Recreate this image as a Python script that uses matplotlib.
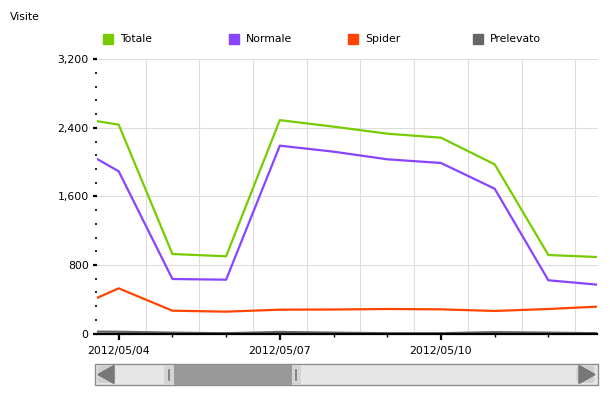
import matplotlib
matplotlib.use('Agg')
import matplotlib.pyplot as plt
import matplotlib.dates as mpl_dates
from matplotlib.patches import Rectangle, FancyBboxPatch, Polygon
from matplotlib.ticker import MultipleLocator, FuncFormatter
import pandas as pd

# data (visits per day)
days = pd.date_range('2012-05-03', '2012-05-13', freq='D')
totale = [2540, 2437, 928, 901, 2490, 2414, 2332, 2285, 1974, 916, 890]
normale = [2250, 1893, 636, 628, 2192, 2122, 2033, 1990, 1690, 621, 565]
spider = [250, 527, 266, 255, 278, 280, 286, 282, 263, 286, 316]
prelevato = [25, 20, 10, 3, 18, 10, 3, 3, 16, 10, 3]

series_names = ['Totale', 'Normale', 'Spider', 'Prelevato']
series_colors = ['#77cc00', '#8844ff', '#ff4400', '#666666']

plt.rcParams['font.family'] = 'DejaVu Sans'
W, H = 610, 396
fig = plt.figure(figsize=(W / 100, H / 100), dpi=100)

# plot area
ax = fig.add_axes([97 / W, 1 - 333.5 / H, 499.7 / W, 274.2 / H])
x = mpl_dates.date2num(days)
for vals, col in zip([totale, normale, spider, prelevato], series_colors):
    ax.plot(x, vals, color=col, lw=1.6, solid_joinstyle='round', zorder=3)

x0 = mpl_dates.date2num(pd.Timestamp('2012-05-04')) - 0.404
x1 = mpl_dates.date2num(pd.Timestamp('2012-05-13')) - 0.1
ax.set_xlim(x0, x1)
ax.set_ylim(0, 3200)

# grid: horizontal on major y, vertical at half days
for v in [800, 1600, 2400, 3200]:
    ax.axhline(v, color='#dddddd', lw=0.8, zorder=1, clip_on=False)
for d in x[:-1]:
    if x0 < d + 0.5 < x1:
        ax.axvline(d + 0.5, color='#dddddd', lw=0.8, zorder=1)

for s in ['top', 'right', 'left']:
    ax.spines[s].set_visible(False)
ax.spines['bottom'].set_linewidth(1.6)
ax.spines['bottom'].set_zorder(4)

ax.yaxis.set_major_locator(MultipleLocator(800))
ax.yaxis.set_minor_locator(MultipleLocator(160))
ax.yaxis.set_major_formatter(FuncFormatter(lambda v, p: f'{int(v):,}'))
ax.tick_params(axis='y', which='major', length=3, width=1.6, pad=3, labelsize=7.8)
ax.tick_params(axis='y', which='minor', length=1.2, width=1.2)

ax.xaxis.set_major_locator(mpl_dates.DayLocator(bymonthday=[4, 7, 10]))
ax.xaxis.set_minor_locator(mpl_dates.DayLocator())
ax.xaxis.set_major_formatter(mpl_dates.DateFormatter('%Y/%m/%d'))
ax.tick_params(axis='x', which='major', length=4, width=1.6, pad=5, labelsize=7.8)
ax.tick_params(axis='x', which='minor', length=2.2, width=1.0)

# overlay in pixel coordinates for title, legend and scrollbar
deco = fig.add_axes([0, 0, 1, 1], zorder=-1)
deco.set_xlim(0, W)
deco.set_ylim(H, 0)
deco.axis('off')

deco.text(10, 17, 'Visite', fontsize=7.8, va='center', ha='left')
legend_x = [103, 229, 348, 473]
for lx, name, col in zip(legend_x, series_names, series_colors):
    deco.add_patch(Rectangle((lx, 34), 10, 10, color=col))
    deco.text(lx + 17, 39.5, name, fontsize=7.8, va='center', ha='left')

# scrollbar
deco.add_patch(Rectangle((95, 363.5), 502.5, 21.5, facecolor='#e6e6e6',
                         edgecolor='#8c8c8c', lw=1))
for bx in [96.5, 575.5]:
    deco.add_patch(FancyBboxPatch((bx + 1, 366), 18, 17,
                                  boxstyle='round,pad=0,rounding_size=3',
                                  facecolor='#cfcfcf', edgecolor='none'))
deco.add_patch(Polygon([(114, 365.5), (114, 383.5), (98, 374.5)], color='#777777'))
deco.add_patch(Polygon([(579, 365.5), (579, 383.5), (595, 374.5)], color='#777777'))
deco.add_patch(Rectangle((164, 364.5), 137, 20, facecolor='#999999', edgecolor='none'))
for hx in [164, 291.5]:
    deco.add_patch(Rectangle((hx, 364.5), 9.5, 20, facecolor='#d4d4d4', edgecolor='none'))
    deco.plot([hx + 4.5, hx + 4.5], [369.5, 379.5], color='#777777', lw=1.2)

fig.savefig('out.png', dpi=100)
